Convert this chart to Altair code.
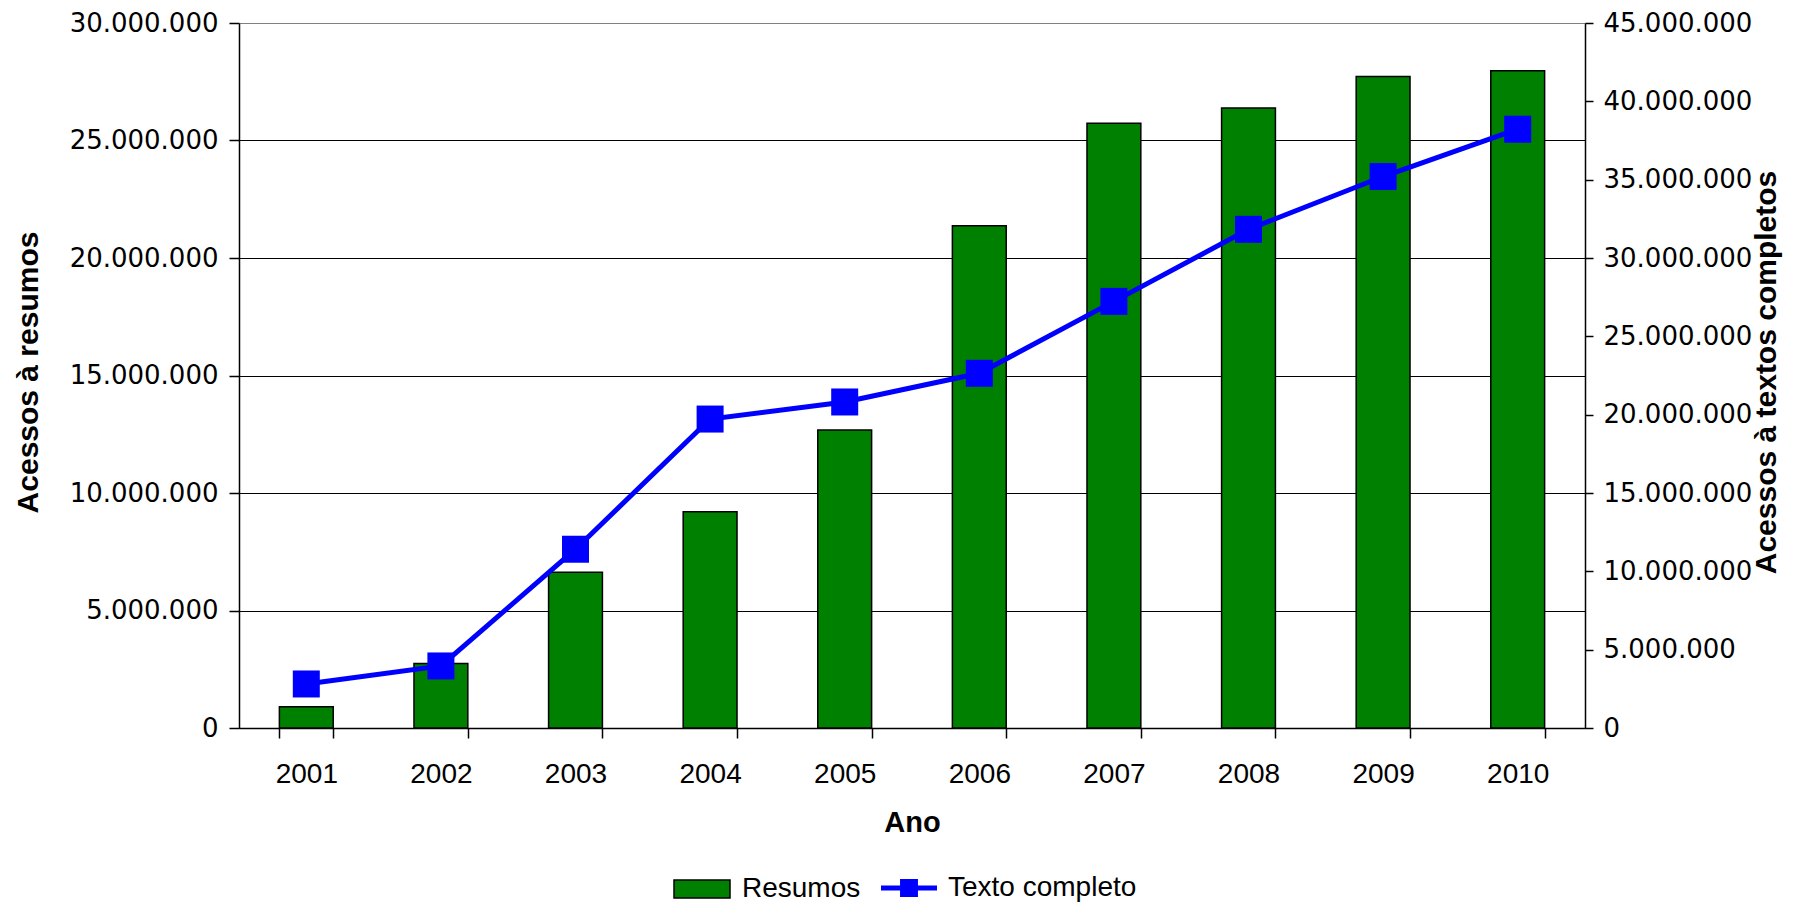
import altair as alt
import pandas as pd

anos = ["2001", "2002", "2003", "2004", "2005", "2006", "2007", "2008", "2009", "2010"]
resumos = [900000, 2740000, 6630000, 9200000, 12680000, 21370000, 25730000, 26380000, 27720000, 27970000]
texto_completo = [2810000, 3960000, 11410000, 19720000, 20810000, 22640000, 27230000, 31830000, 35200000, 38220000]
ticks_esq = [0, 5000000, 10000000, 15000000, 20000000, 25000000, 30000000]
ticks_dir = [0, 5000000, 10000000, 15000000, 20000000, 25000000, 30000000, 35000000, 40000000, 45000000]

df_bar = pd.DataFrame({"Ano": anos, "valor": resumos, "serie": ["Resumos"] * len(anos)})
df_line = pd.DataFrame({"Ano": anos, "valor": texto_completo, "serie": ["Texto completo"] * len(anos)})

fmt = "replace(format(datum.value, ','), /,/g, '.')"
RECT = "M-2,-0.64H2V0.64H-2Z"
LINESQ = "M-2,-0.18H2V0.18H-2Z M-0.64,-0.64H0.64V0.64H-0.64Z"

W, H = 1346, 705

x_enc = alt.X(
    "Ano:N",
    title="Ano",
    scale=alt.Scale(paddingInner=0.6, paddingOuter=0.3),
    axis=alt.Axis(
        labelAngle=0, tickBand="extent", tickSize=10, labelPadding=22,
        labelFontSize=28, labelFont="Liberation Sans",
        titleFontSize=29, titleX=W / 2, titleY=94, titleBaseline="middle",
        titleAlign="center", domainWidth=1.5, tickWidth=1.5,
    ),
)

bars = alt.Chart(df_bar).mark_bar(stroke="black", strokeWidth=1.5).encode(
    x=x_enc,
    y=alt.Y(
        "valor:Q",
        title="Acessos à resumos",
        scale=alt.Scale(domain=[0, 30000000], nice=False),
        axis=alt.Axis(
            values=ticks_esq, labelExpr=fmt, tickSize=10, labelPadding=11,
            labelFont="DejaVu Sans", labelFontSize=26,
            grid=True, gridWidth=1.2,
            gridColor={"condition": {"test": "datum.value >= 30000000", "value": "#808080"}, "value": "black"},
            titleFontSize=30, titleAngle=270, titleX=-211, titleY=349,
            titleAlign="center", titleBaseline="middle", domainWidth=1.5, tickWidth=1.5,
        ),
    ),
    color=alt.Color(
        "serie:N",
        scale=alt.Scale(domain=["Resumos"], range=["#008000"]),
        legend=alt.Legend(
            orient="none", legendX=448, legendY=851, title=None,
            symbolType=RECT, symbolSize=784, symbolStrokeColor="black",
            symbolStrokeWidth=1.5, symbolFillColor="#008000", symbolOpacity=1,
            labelFontSize=28, labelFont="Liberation Sans", labelOffset=25,
            labelColor="black", labelLimit=500,
        ),
    ),
)

line = alt.Chart(df_line).mark_line(
    strokeWidth=5,
    point=alt.OverlayMarkDef(shape="square", size=729, filled=True, opacity=1),
).encode(
    x=x_enc,
    y=alt.Y(
        "valor:Q",
        title="Acessos à textos completos",
        scale=alt.Scale(domain=[0, 45000000], nice=False),
        axis=alt.Axis(
            orient="right", values=ticks_dir, labelExpr=fmt, tickSize=8,
            labelPadding=10, labelFont="DejaVu Sans", labelFontSize=26, grid=False,
            titleFontSize=30, titleAngle=270, titleX=181, titleY=349,
            titleAlign="center", titleBaseline="middle", domainWidth=1.5, tickWidth=1.5,
        ),
    ),
    color=alt.Color(
        "serie:N",
        scale=alt.Scale(domain=["Texto completo"], range=["#0000FF"]),
        legend=alt.Legend(
            orient="none", legendX=656, legendY=851, title=None,
            symbolType=LINESQ, symbolSize=784, symbolStrokeWidth=0,
            symbolFillColor="#0000FF", symbolStrokeColor="#0000FF", symbolOpacity=1,
            labelFontSize=28, labelFont="Liberation Sans", labelOffset=25,
            labelColor="black", labelLimit=500,
        ),
    ),
)

chart = (
    alt.layer(bars, line)
    .resolve_scale(y="independent", color="independent")
    .properties(
        width=W, height=H,
        autosize=alt.AutoSizeParams(type="none"),
        padding={"left": 231, "top": 15, "right": 210, "bottom": 179},
        background="white",
    )
    .configure_view(stroke=None)
    .configure_axis(
        labelColor="black", tickColor="black", domainColor="black",
        titleColor="black", titleFont="Liberation Sans", titleFontWeight="bold",
    )
)

chart.save("out.html", embed_options={"renderer": "svg", "actions": False})
